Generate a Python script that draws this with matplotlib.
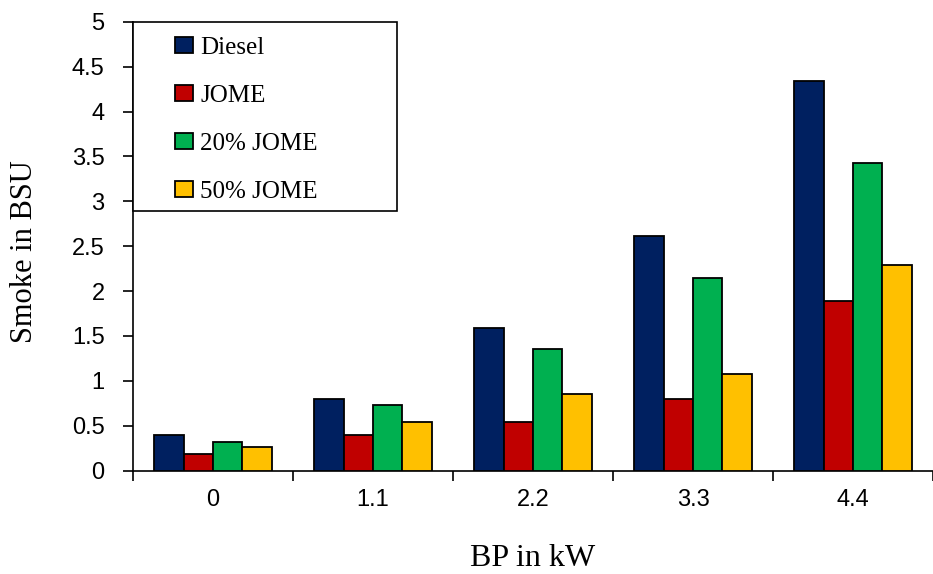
import matplotlib
matplotlib.use("Agg")
import numpy as np
import matplotlib.pyplot as plt
from matplotlib.patches import Rectangle

# data
bp_labels = ["0", "1.1", "2.2", "3.3", "4.4"]
diesel    = [0.40, 0.80, 1.59, 2.61, 4.34]
jome      = [0.19, 0.40, 0.54, 0.80, 1.89]
jome_20   = [0.32, 0.73, 1.35, 2.15, 3.43]
jome_50   = [0.26, 0.54, 0.85, 1.08, 2.29]

series = [
    ("Diesel",   diesel,  "#002060"),
    ("JOME",     jome,    "#C00000"),
    ("20% JOME", jome_20, "#00B050"),
    ("50% JOME", jome_50, "#FFC000"),
]

SANS  = "Liberation Sans"
SERIF = "Liberation Serif"

fig = plt.figure(figsize=(9.33, 5.74), dpi=100)
ax = fig.add_axes([133 / 933, (574 - 470.7) / 574, 800 / 933, 449 / 574])

x = np.arange(len(bp_labels))
w = 0.184
for i, (name, vals, col) in enumerate(series):
    ax.bar(x + (i - 1.5) * w, vals, width=w, color=col,
           edgecolor="black", linewidth=1.3, label=name, zorder=3)

ax.set_xlim(-0.5, -0.5 + 800 / 161.75)
ax.set_ylim(0, 5)
ax.set_yticks(np.arange(0, 5.01, 0.5))
ax.set_yticklabels(["0", "0.5", "1", "1.5", "2", "2.5", "3", "3.5", "4", "4.5", "5"])
ax.set_xticks(x)
ax.set_xticklabels(bp_labels)
ax.set_xticks(np.arange(-0.5, 5.0, 1.0), minor=True)

ax.tick_params(axis="x", which="major", length=0, pad=13, labelsize=17)
ax.tick_params(axis="x", which="minor", length=7, width=1.2, direction="out")
ax.tick_params(axis="y", length=7.5, width=1.2, direction="out", pad=13, labelsize=17)
for lab in ax.get_xticklabels() + ax.get_yticklabels():
    lab.set_fontfamily(SANS)

for s in ["top", "right"]:
    ax.spines[s].set_visible(False)
for s in ["left", "bottom"]:
    ax.spines[s].set_linewidth(1.2)
    ax.spines[s].set_color("black")

ax.set_xlabel("BP in kW", fontfamily=SERIF, fontsize=23)
ax.xaxis.set_label_coords(0.5, -0.163)
ax.set_ylabel("Smoke in BSU", fontfamily=SERIF, fontsize=22)
ax.yaxis.set_label_coords(-0.118, 0.488)

# legend box drawn separately, legend itself frameless
ax.add_patch(Rectangle((0, 0.578), 0.33, 0.422, transform=ax.transAxes,
                       facecolor="white", edgecolor="black", linewidth=1.2,
                       zorder=4, clip_on=False))
leg = ax.legend(loc="upper left", bbox_to_anchor=(0.0525, 0.966),
                frameon=False, borderpad=0, borderaxespad=0,
                handlelength=0.72, handleheight=0.6, handletextpad=0.3,
                labelspacing=1.04, prop={"family": SERIF, "size": 18})
leg.set_zorder(5)

fig.savefig("out.png", dpi=100)
